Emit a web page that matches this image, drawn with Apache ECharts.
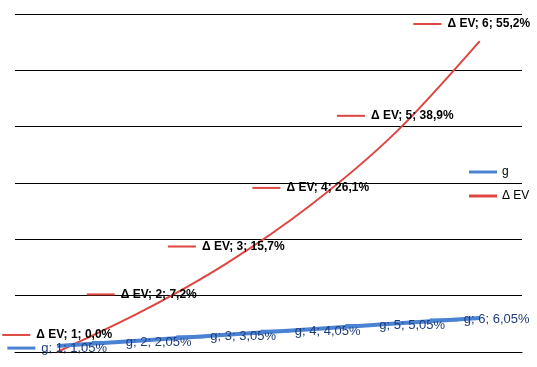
<!DOCTYPE html>
<html><head><meta charset="utf-8">
<script src="https://cdn.jsdelivr.net/npm/echarts@6/dist/echarts.min.js"></script>
<style>html,body{margin:0;padding:0;background:#fff}#c{width:537px;height:367px}</style>
</head><body><div id="c"></div>
<script>
const categories = [1, 2, 3, 4, 5, 6];
const gValues = [1.05, 2.05, 3.05, 4.05, 5.05, 6.05];
const evValues = [0.0, 7.2, 15.7, 26.1, 38.9, 55.2];
const seriesNames = ['g', 'Δ EV'];
const RED = '#DD4641', BLUE = '#4A82D4';
const fmt = (v, d) => v.toFixed(d).replace('.', ',') + '%';

const chart = echarts.init(document.getElementById('c'));
chart.setOption({
  animation: false,
  grid: {left: 15, right: 15, top: 14, bottom: 15},
  xAxis: {type: 'category', data: categories, boundaryGap: true,
    axisLine: {show: true, lineStyle: {color: '#000', width: 1}},
    axisTick: {show: false}, axisLabel: {show: false}},
  yAxis: {type: 'value', min: 0, max: 60, interval: 10,
    axisLine: {show: false}, axisTick: {show: false}, axisLabel: {show: false},
    splitLine: {lineStyle: {color: '#000', width: 1}}},
  legend: {orient: 'vertical', left: 464, top: 161, itemWidth: 28, itemHeight: 3, itemGap: 12,
    textStyle: {fontFamily: 'Liberation Sans', fontSize: 12, color: '#000'},
    data: [{name: seriesNames[0], icon: 'rect'}, {name: seriesNames[1], icon: 'rect'}]},
  series: [
    {name: seriesNames[0], type: 'line', symbol: 'circle', symbolSize: 0.1, showSymbol: true,
      itemStyle: {color: BLUE}, lineStyle: {color: BLUE, width: 4},
      data: gValues,
      z: 3,
      label: {show: true, position: 'inside', offset: [0, 2],
        formatter: p => '{k|}{t|' + seriesNames[0] + '; ' + categories[p.dataIndex] + '; ' + fmt(p.value, 2) + '}',
        rich: {
          k: {width: 28, height: 3, backgroundColor: BLUE, verticalAlign: 'middle'},
          t: {fontFamily: 'Liberation Sans', fontSize: 13, color: '#1F3C78', padding: [0, 0, 0, 6], verticalAlign: 'middle'}
        }}},
    {name: seriesNames[1], type: 'line', symbol: 'circle', symbolSize: 0.1, showSymbol: true, smooth: 0.3,
      itemStyle: {color: RED}, lineStyle: {color: RED, width: 2},
      z: 2,
      data: evValues.map((v, i) => i === evValues.length - 1 ? {value: v, label: {offset: [-8, 0]}} : v),
      label: {show: true, position: 'top', distance: 11,
        formatter: p => '{k|}{t|' + seriesNames[1] + '; ' + categories[p.dataIndex] + '; ' + fmt(p.value, 1) + '}',
        rich: {
          k: {width: 28, height: 2, backgroundColor: RED, verticalAlign: 'middle'},
          t: {fontFamily: 'Liberation Sans', fontSize: 12, fontWeight: 'bold', color: '#000', padding: [0, 0, 0, 6], verticalAlign: 'middle'}
        }}}
  ]
});
</script></body></html>
